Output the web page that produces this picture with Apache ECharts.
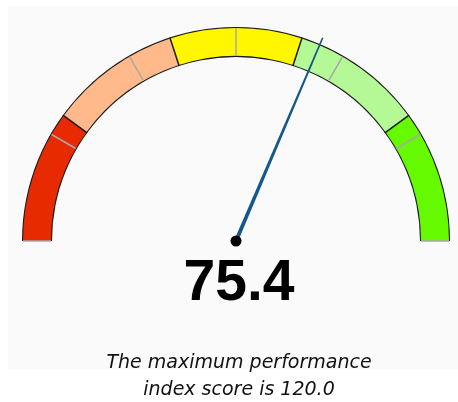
<!DOCTYPE html>
<html>
<head>
<meta charset="utf-8">
<script src="https://cdn.jsdelivr.net/npm/echarts@6/dist/echarts.min.js"></script>
<style>
html,body{margin:0;padding:0;background:#ffffff;}
#chart{width:458px;height:402px;}
</style>
</head>
<body>
<div id="chart"></div>
<script>
var gaugeMin = 0;
var gaugeMax = 120;
var gaugeValue = 75.4;
var bandStops = [0.2, 0.4, 0.6, 0.8, 1.0];
var bandColors = ['#e82a00', '#ffb98a', '#fff700', '#b4f996', '#66fa00'];
var bandEdges = [24, 48, 72, 96];
var captionLines = ['The maximum performance', 'index score is 120.0'];

var cx = 236, cy = 241, R = 213, W = 28;
function angleOf(v){ return 180 - (v - gaugeMin) / (gaugeMax - gaugeMin) * 180; }

var chart = echarts.init(document.getElementById('chart'), null, {renderer:'canvas'});
var off = {axisTick:{show:false}, axisLabel:{show:false}, pointer:{show:false}, detail:{show:false}, title:{show:false}, anchor:{show:false}};

var option = {
  animation: false,
  backgroundColor: '#ffffff',
  graphic: [
    {type:'rect', shape:{x:8, y:6, width:450, height:363}, style:{fill:'#fafafa'}, z:-10},
    {type:'text', x:239, y:363, style:{text:captionLines[0], fill:'#111', font:'italic 19px "DejaVu Sans"', align:'center', verticalAlign:'middle'}},
    {type:'text', x:239, y:390, style:{text:captionLines[1], fill:'#111', font:'italic 19px "DejaVu Sans"', align:'center', verticalAlign:'middle'}}
  ],
  series: [
    Object.assign({
      type:'gauge', center:[cx, cy], radius:R+1, startAngle:180, endAngle:0, min:gaugeMin, max:gaugeMax,
      axisLine:{lineStyle:{width:W+2, color:[[1,'#1a1a1a']]}},
      splitLine:{show:false}
    }, off),
    Object.assign({
      type:'gauge', center:[cx, cy], radius:R, startAngle:180, endAngle:0, min:gaugeMin, max:gaugeMax, splitNumber:6,
      axisLine:{lineStyle:{width:W, color:bandStops.map(function(s,i){return [s, bandColors[i]];})}},
      splitLine:{show:true, distance:-W, length:W, lineStyle:{color:'#a8a8a8', width:1.5}}
    }, off),
    Object.assign({
      type:'gauge', center:[cx, cy], radius:R+1, startAngle:angleOf(bandEdges[0]), endAngle:angleOf(bandEdges[bandEdges.length-1]),
      min:bandEdges[0], max:bandEdges[bandEdges.length-1], splitNumber:bandEdges.length-1,
      axisLine:{show:true, lineStyle:{width:W+2, color:[[1,'rgba(0,0,0,0)']]}},
      splitLine:{show:true, distance:-(W+2), length:W+2, lineStyle:{color:'#1a1a1a', width:1.5}}
    }, off),
    {
      type:'gauge', center:[cx, cy], radius:R, startAngle:180, endAngle:0, min:gaugeMin, max:gaugeMax,
      axisLine:{show:false}, splitLine:{show:false}, axisTick:{show:false}, axisLabel:{show:false},
      pointer:{show:true, length:221, width:4, icon:'path://M1.2,0 L2.8,0 L4,100 L0,100 Z', itemStyle:{color:'#13578c'}},
      anchor:{show:true, showAbove:true, size:11, itemStyle:{color:'#000000'}},
      title:{show:false},
      detail:{show:true, offsetCenter:[3, 43], formatter:function(v){return v.toFixed(1);},
        fontFamily:'"Liberation Sans", Arial, sans-serif', fontWeight:'bold', fontSize:57, color:'#000000'},
      data:[{value:gaugeValue}]
    }
  ]
};
chart.setOption(option);
</script>
</body>
</html>
